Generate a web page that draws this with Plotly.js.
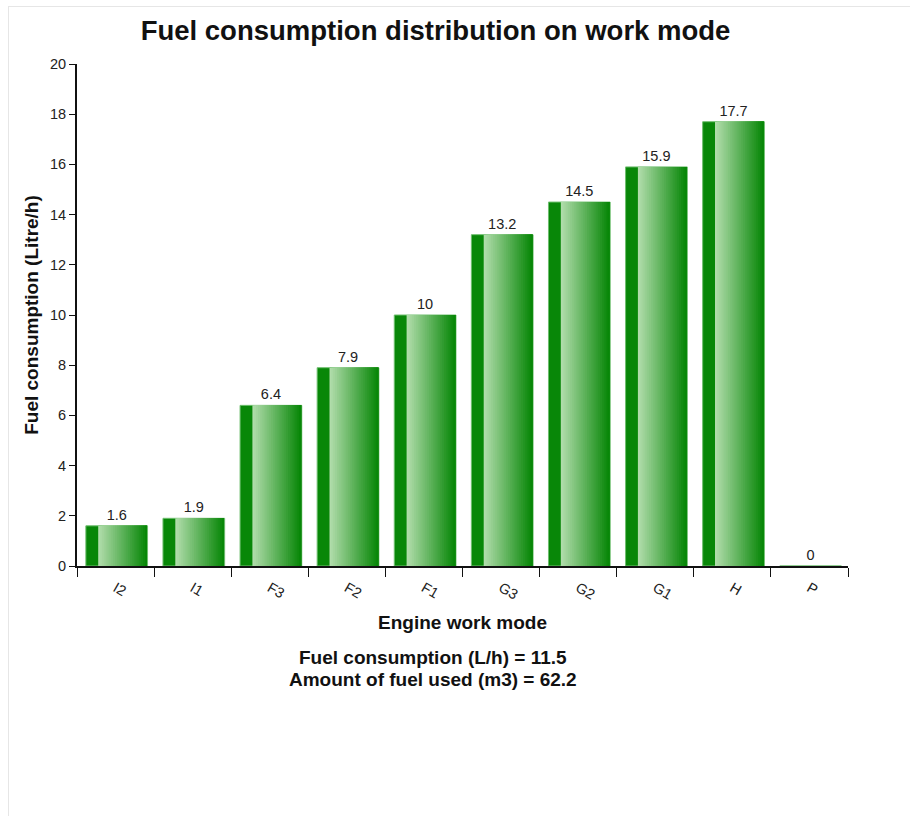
<!DOCTYPE html>
<html>
<head>
<meta charset="utf-8">
<script src="https://cdn.plot.ly/plotly-3.0.1.min.js"></script>
<style>
  html, body { margin: 0; padding: 0; background: #fff; }
  #frame { position: absolute; left: 8px; top: 6px; width: 910px; height: 820px;
           border-top: 1px solid #e6e6e6; border-left: 1px solid #e6e6e6; pointer-events: none; }
  #chart { position: absolute; left: 0; top: 0; width: 910px; height: 816px; }
</style>
</head>
<body>
<div id="chart"></div>
<div id="frame"></div>
<script>
// ---- data ----
const workModes = ["I2", "I1", "F3", "F2", "F1", "G3", "G2", "G1", "H", "P"];
const fuelConsumption = [1.6, 1.9, 6.4, 7.9, 10, 13.2, 14.5, 15.9, 17.7, 0];
const yTicks = [0, 2, 4, 6, 8, 10, 12, 14, 16, 18, 20];
const chartTitle = "Fuel consumption distribution on work mode";
const xTitle = "Engine work mode";
const yTitle = "Fuel consumption (Litre/h)";
const summaryLines = ["Fuel consumption (L/h) = 11.5", "Amount of fuel used (m3) = 62.2"];

// ---- styling ----
const FONT = "Liberation Sans, Arial, sans-serif";
const barWidth = 0.8, barOffset = -0.385, darkStrip = 0.16;
const dark = [8, 135, 8], light = [176, 220, 170];
const nStripes = 26;

const traces = [];
// base bar (dark green, with labels)
traces.push({
  type: "bar", x: workModes, y: fuelConsumption,
  width: barWidth, offset: barOffset,
  marker: { color: "rgb(8,135,8)", line: { color: "rgb(110,190,110)", width: 1 } },
  text: fuelConsumption.map(String), textposition: "outside",
  textfont: { family: FONT, size: 14.5, color: "#222" },
  cliponaxis: false, hoverinfo: "skip", showlegend: false
});
// gradient stripes (each runs to the right end so no gaps appear)
const gStart = barOffset + darkStrip;
const gEnd = barOffset + barWidth - 0.008;
for (let i = 0; i < nStripes; i++) {
  const t = i / (nStripes - 1);
  const c = light.map((l, k) => Math.round(l + (dark[k] - l) * t));
  const s = gStart + i * (gEnd - gStart) / nStripes;
  traces.push({
    type: "bar", x: workModes, y: fuelConsumption,
    width: gEnd - s, offset: s,
    marker: { color: `rgb(${c[0]},${c[1]},${c[2]})`, line: { width: 0 } },
    hoverinfo: "skip", showlegend: false
  });
}

const layout = {
  width: 910, height: 816,
  margin: { l: 77, r: 62, t: 64, b: 250 },
  paper_bgcolor: "rgba(0,0,0,0)", plot_bgcolor: "rgba(0,0,0,0)",
  barmode: "overlay", bargap: 0.2,
  font: { family: FONT, color: "#222" },
  title: { text: "<b>" + chartTitle + "</b>", font: { family: FONT, size: 27.5, color: "#111" },
           xref: "container", x: 0.4786, xanchor: "center", yref: "container", y: 1 - 30 / 816, yanchor: "middle" },
  xaxis: {
    type: "category", tickangle: 30, tickson: "boundaries", ticks: "outside", ticklen: 9,
    tickcolor: "#111", tickwidth: 1, showline: true, linecolor: "#111", linewidth: 2,
    showgrid: false, zeroline: false, ticklabelstandoff: 6,
    tickfont: { family: FONT, size: 14.5, color: "#222" },
    title: { text: "<b>" + xTitle + "</b>", font: { family: FONT, size: 19, color: "#111" }, standoff: 14 },
    automargin: false
  },
  yaxis: {
    range: [0, 20], tickvals: yTicks, ticks: "outside", ticklen: 6, tickcolor: "#111",
    showline: true, linecolor: "#111", linewidth: 2, showgrid: false, zeroline: false,
    tickfont: { family: FONT, size: 14.5, color: "#222" },
    title: { text: "<b>" + yTitle + "</b>", font: { family: FONT, size: 19, color: "#111" }, standoff: 6 },
    automargin: false
  },
  annotations: summaryLines.map((s, i) => ({
    text: "<b>" + s + "</b>", xref: "paper", yref: "paper",
    x: 0.4617, y: (566 - (657 + i * 22)) / 502, xanchor: "center", yanchor: "middle",
    showarrow: false, font: { family: FONT, size: 19, color: "#111" }
  }))
};

Plotly.newPlot("chart", traces, layout, { displayModeBar: false, staticPlot: true });
</script>
</body>
</html>
